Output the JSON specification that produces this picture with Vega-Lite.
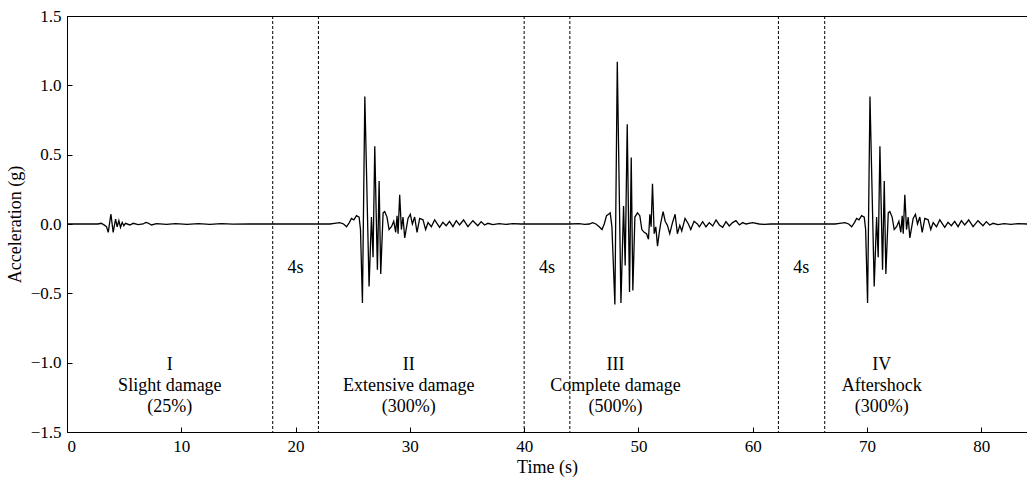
{
  "$schema": "https://vega.github.io/schema/vega-lite/v6.json",
  "width": 960,
  "height": 416,
  "autosize": "none",
  "padding": {"left": 67, "top": 16, "right": 0, "bottom": 46},
  "background": "white",
  "config": {
    "font": "Liberation Serif",
    "view": {"stroke": "black", "strokeWidth": 1},
    "text": {"font": "Liberation Serif"},
    "axis": {
      "domainColor": "black", "tickColor": "black", "labelColor": "black", "titleColor": "black",
      "labelFont": "Liberation Serif", "titleFont": "Liberation Serif",
      "labelFontSize": 17, "titleFontSize": 18, "titleFontWeight": "normal",
      "grid": false, "tickSize": -5, "labelPadding": 11, "domainWidth": 1, "tickWidth": 1
    }
  },
  "datasets": {
    "wave": [
      {"t":0,"a":0},{"t":2.7,"a":0},{"t":3.0,"a":0.005},{"t":3.3,"a":-0.01},{"t":3.46,"a":-0.02},{"t":3.61,"a":-0.06},{"t":3.84,"a":0.072},{"t":4.04,"a":-0.06},{"t":4.25,"a":0.036},{"t":4.39,"a":-0.02},{"t":4.54,"a":0.024},{"t":4.68,"a":-0.024},{"t":4.83,"a":0.012},{"t":4.97,"a":-0.012},{"t":5.12,"a":0.005},{"t":5.5,"a":-0.007},{"t":5.79,"a":0.005},{"t":6.23,"a":-0.005},{"t":6.66,"a":0},{"t":6.9,"a":0.012},{"t":7.1,"a":0.007},{"t":7.39,"a":-0.007},{"t":7.83,"a":0.002},{"t":8.7,"a":-0.003},{"t":9.5,"a":0.002},{"t":10.5,"a":-0.002},{"t":11.5,"a":0.002},{"t":12.5,"a":-0.002},{"t":13.5,"a":0.002},{"t":14.5,"a":-0.001},{"t":16,"a":0},
      {"t":22,"a":0},{"t":23.0,"a":0},{"t":23.4,"a":0.005},{"t":23.87,"a":0.01},{"t":24.2,"a":0.0},{"t":24.46,"a":-0.02},{"t":24.7,"a":0.01},{"t":24.89,"a":0.04},{"t":25.1,"a":0.03},{"t":25.33,"a":0.06},{"t":25.56,"a":0.05},{"t":25.68,"a":-0.04},{"t":25.85,"a":-0.57},{"t":26.06,"a":0.92},{"t":26.43,"a":-0.45},{"t":26.64,"a":0.05},{"t":26.78,"a":-0.24},{"t":26.93,"a":0.56},{"t":27.16,"a":-0.33},{"t":27.31,"a":0.31},{"t":27.45,"a":-0.36},{"t":27.66,"a":0.08},{"t":27.8,"a":0.09},{"t":28.0,"a":0.05},{"t":28.18,"a":-0.04},{"t":28.39,"a":-0.02},{"t":28.59,"a":0.02},{"t":28.76,"a":-0.06},{"t":28.88,"a":0.06},{"t":28.97,"a":-0.07},{"t":29.11,"a":0.21},{"t":29.26,"a":-0.04},{"t":29.4,"a":0.05},{"t":29.55,"a":-0.1},{"t":29.84,"a":0.04},{"t":30.04,"a":0.07},{"t":30.22,"a":0.0},{"t":30.42,"a":0.05},{"t":30.63,"a":-0.06},{"t":30.86,"a":0.04},{"t":31.15,"a":0.03},{"t":31.38,"a":-0.04},{"t":31.59,"a":0.01},{"t":31.88,"a":-0.02},{"t":32.17,"a":0.03},{"t":32.6,"a":-0.024},{"t":32.89,"a":0.012},{"t":33.18,"a":-0.012},{"t":33.47,"a":0.019},{"t":33.77,"a":-0.019},{"t":34.06,"a":0.024},{"t":34.35,"a":-0.007},{"t":34.7,"a":0.029},{"t":35.08,"a":-0.019},{"t":35.51,"a":0.024},{"t":35.95,"a":-0.012},{"t":36.24,"a":0.017},{"t":36.53,"a":-0.007},{"t":36.83,"a":0.005},{"t":37.26,"a":-0.005},{"t":37.8,"a":0.003},{"t":38.4,"a":-0.003},{"t":39.0,"a":0.002},{"t":39.7,"a":0},
      {"t":44,"a":0},{"t":44.8,"a":0.002},{"t":45.3,"a":-0.003},{"t":45.7,"a":0},{"t":45.99,"a":0.01},{"t":46.28,"a":0},{"t":46.57,"a":-0.02},{"t":46.81,"a":-0.04},{"t":47.01,"a":0.0},{"t":47.21,"a":0.06},{"t":47.39,"a":0.07},{"t":47.53,"a":0.08},{"t":47.68,"a":-0.02},{"t":47.94,"a":-0.58},{"t":48.15,"a":1.17},{"t":48.47,"a":-0.57},{"t":48.7,"a":0.13},{"t":48.84,"a":-0.3},{"t":49.02,"a":0.72},{"t":49.22,"a":-0.49},{"t":49.37,"a":0.48},{"t":49.51,"a":-0.48},{"t":49.69,"a":0.05},{"t":49.92,"a":0.08},{"t":50.12,"a":0.06},{"t":50.3,"a":-0.04},{"t":50.5,"a":-0.06},{"t":50.71,"a":-0.07},{"t":50.88,"a":-0.11},{"t":51.0,"a":0.07},{"t":51.11,"a":-0.02},{"t":51.23,"a":0.29},{"t":51.38,"a":-0.07},{"t":51.52,"a":-0.02},{"t":51.67,"a":-0.16},{"t":51.81,"a":-0.07},{"t":51.96,"a":0.01},{"t":52.16,"a":0.09},{"t":52.34,"a":0.02},{"t":52.54,"a":-0.01},{"t":52.74,"a":-0.07},{"t":52.98,"a":0.01},{"t":53.21,"a":0.07},{"t":53.41,"a":-0.07},{"t":53.62,"a":-0.01},{"t":53.79,"a":-0.05},{"t":54.08,"a":0.04},{"t":54.37,"a":0},{"t":54.58,"a":-0.04},{"t":54.87,"a":0.02},{"t":55.16,"a":0.0},{"t":55.33,"a":-0.02},{"t":55.62,"a":0.017},{"t":55.91,"a":-0.02},{"t":56.2,"a":0.01},{"t":56.5,"a":-0.014},{"t":56.79,"a":0.029},{"t":57.08,"a":-0.007},{"t":57.37,"a":-0.024},{"t":57.66,"a":0.017},{"t":57.95,"a":-0.014},{"t":58.24,"a":0.01},{"t":58.53,"a":0.024},{"t":58.83,"a":-0.007},{"t":59.12,"a":0.01},{"t":59.41,"a":0},{"t":59.99,"a":0.01},{"t":60.57,"a":0},{"t":61.0,"a":-0.003},{"t":61.6,"a":0},
      {"t":66.3,"a":0},{"t":67.2,"a":0},{"t":67.6,"a":0.005},{"t":68.07,"a":0.01},{"t":68.4,"a":0.0},{"t":68.66,"a":-0.02},{"t":68.9,"a":0.01},{"t":69.09,"a":0.04},{"t":69.3,"a":0.03},{"t":69.53,"a":0.06},{"t":69.76,"a":0.05},{"t":69.88,"a":-0.04},{"t":70.05,"a":-0.57},{"t":70.26,"a":0.92},{"t":70.63,"a":-0.45},{"t":70.84,"a":0.05},{"t":70.98,"a":-0.24},{"t":71.13,"a":0.56},{"t":71.36,"a":-0.33},{"t":71.51,"a":0.31},{"t":71.65,"a":-0.36},{"t":71.86,"a":0.08},{"t":72.0,"a":0.09},{"t":72.2,"a":0.05},{"t":72.38,"a":-0.04},{"t":72.59,"a":-0.02},{"t":72.79,"a":0.02},{"t":72.96,"a":-0.06},{"t":73.08,"a":0.06},{"t":73.17,"a":-0.07},{"t":73.31,"a":0.21},{"t":73.46,"a":-0.04},{"t":73.6,"a":0.05},{"t":73.75,"a":-0.1},{"t":74.04,"a":0.04},{"t":74.24,"a":0.07},{"t":74.42,"a":0.0},{"t":74.62,"a":0.05},{"t":74.83,"a":-0.06},{"t":75.06,"a":0.04},{"t":75.35,"a":0.03},{"t":75.58,"a":-0.04},{"t":75.79,"a":0.01},{"t":76.08,"a":-0.02},{"t":76.37,"a":0.03},{"t":76.8,"a":-0.024},{"t":77.09,"a":0.012},{"t":77.38,"a":-0.012},{"t":77.67,"a":0.019},{"t":77.97,"a":-0.019},{"t":78.26,"a":0.024},{"t":78.55,"a":-0.007},{"t":78.9,"a":0.029},{"t":79.28,"a":-0.019},{"t":79.71,"a":0.024},{"t":80.15,"a":-0.012},{"t":80.44,"a":0.017},{"t":80.73,"a":-0.007},{"t":81.03,"a":0.005},{"t":81.46,"a":-0.005},{"t":82.0,"a":0.003},{"t":82.6,"a":-0.003},{"t":83.2,"a":0.002},{"t":84,"a":0}
    ],
    "dividers": [{"x":18},{"x":22},{"x":40},{"x":44},{"x":62.25},{"x":66.3}],
    "gaps": [{"x":20,"y":-0.317,"label":"4s"},{"x":42,"y":-0.317,"label":"4s"},{"x":64.25,"y":-0.317,"label":"4s"}],
    "stages": [
      {"x":9.0,"y":-1.056,"label":"I"},{"x":9.0,"y":-1.204,"label":"Slight damage"},{"x":9.0,"y":-1.356,"label":"(25%)"},
      {"x":29.9,"y":-1.056,"label":"II"},{"x":29.9,"y":-1.204,"label":"Extensive damage"},{"x":29.9,"y":-1.356,"label":"(300%)"},
      {"x":48.0,"y":-1.056,"label":"III"},{"x":48.0,"y":-1.204,"label":"Complete damage"},{"x":48.0,"y":-1.356,"label":"(500%)"},
      {"x":71.3,"y":-1.056,"label":"IV"},{"x":71.3,"y":-1.204,"label":"Aftershock"},{"x":71.3,"y":-1.356,"label":"(300%)"}
    ]
  },
  "layer": [
    {
      "data": {"name": "wave"},
      "mark": {"type": "line", "color": "black", "strokeWidth": 1.3, "clip": true},
      "encoding": {
        "x": {"field": "t", "type": "quantitative", "sort": null,
              "scale": {"domain": [0, 84], "nice": false, "zero": false},
              "axis": {"title": "Time (s)", "values": [0,10,20,30,40,50,60,70,80], "format": "d", "titlePadding": 4,
                       "labelFont": "Liberation Serif", "titleFont": "Liberation Serif", "labelFontSize": 17, "titleFontSize": 18}},
        "y": {"field": "a", "type": "quantitative",
              "scale": {"domain": [-1.5, 1.5], "nice": false},
              "axis": {"title": "Acceleration (g)", "values": [-1.5,-1,-0.5,0,0.5,1,1.5],
                       "labelExpr": "replace(format(datum.value, '.1f'), '-', '\u2212')", "titlePadding": 6,
                       "labelFont": "Liberation Serif", "titleFont": "Liberation Serif", "labelFontSize": 17, "titleFontSize": 18}}
      }
    },
    {
      "data": {"name": "dividers"},
      "mark": {"type": "rule", "color": "black", "strokeWidth": 1, "strokeDash": [3, 2]},
      "encoding": {"x": {"field": "x", "type": "quantitative"}}
    },
    {
      "data": {"name": "gaps"},
      "mark": {"type": "text", "font": "Liberation Serif", "fontSize": 18, "color": "black", "align": "center", "baseline": "middle"},
      "encoding": {
        "x": {"field": "x", "type": "quantitative"},
        "y": {"field": "y", "type": "quantitative"},
        "text": {"field": "label"}
      }
    },
    {
      "data": {"name": "stages"},
      "mark": {"type": "text", "font": "Liberation Serif", "fontSize": 18, "color": "black", "align": "center", "baseline": "alphabetic"},
      "encoding": {
        "x": {"field": "x", "type": "quantitative"},
        "y": {"field": "y", "type": "quantitative"},
        "text": {"field": "label"}
      }
    }
  ]
}
